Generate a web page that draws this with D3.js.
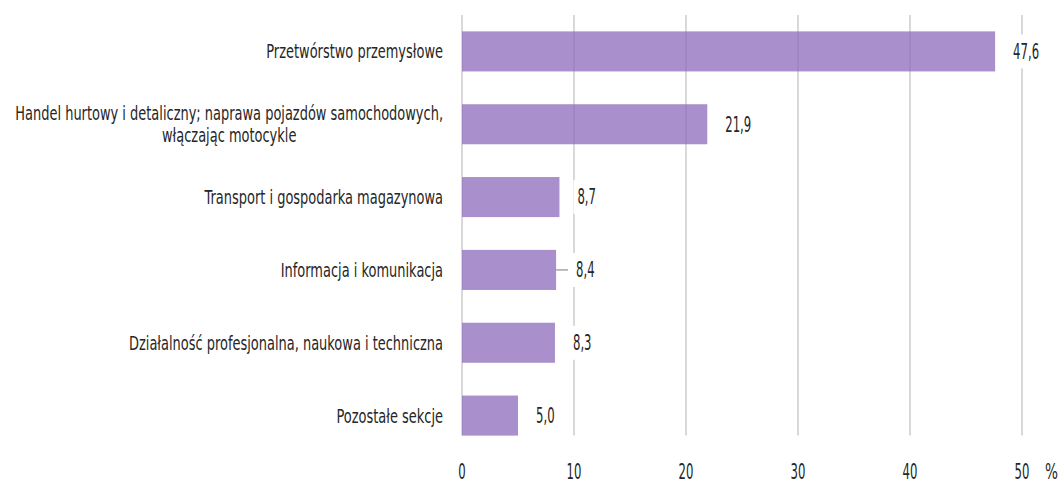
<!DOCTYPE html>
<html lang="pl">
<head>
<meta charset="utf-8">
<title>Sekcje</title>
<script src="https://d3js.org/d3.v7.min.js"></script>
<style>
  body { margin: 0; background: #fff; }
  text { font-family: "DejaVu Sans", sans-serif; fill: #262626; }
</style>
</head>
<body>
<script>
// categories (each entry = lines of the label)
var categories = [
  ["Przetwórstwo przemysłowe"],
  ["Handel hurtowy i detaliczny; naprawa pojazdów samochodowych,", "włączając motocykle"],
  ["Transport i gospodarka magazynowa"],
  ["Informacja i komunikacja"],
  ["Działalność profesjonalna, naukowa i techniczna"],
  ["Pozostałe sekcje"]
];
var values = [47.6, 21.9, 8.7, 8.4, 8.3, 5.0];
var tickValues = [0, 10, 20, 30, 40, 50];
var unitLabel = "%";
// labels that Excel pulled out with a leader line
var leaderIdx = [3];

var W = 1062, H = 485;
var margin = {top: 15, left: 462, right: 40, bottom: 33};
var fsText = 20, fsNum = 21;

var svg = d3.select("body").append("svg")
  .attr("width", W).attr("height", H);

// squeeze DejaVu to mimic the condensed font of the original
function natWidth(str, fs) {
  var t = svg.append("text").attr("font-size", fs).text(str);
  var w = t.node().getComputedTextLength();
  t.remove();
  return w;
}
var sxText = 428 / natWidth(categories[1][0], fsText);
var sxNum = 26 / natWidth("47,6", fsNum);

var x = d3.scaleLinear().domain([0, 50]).range([margin.left, W - margin.right]);
var y = d3.scaleBand().domain(d3.range(categories.length))
  .range([margin.top, H - margin.bottom]).paddingInner(0.45).paddingOuter(0.225);

function addText(parent, px, py, str, anchor, sx, fs) {
  return parent.append("text")
    .attr("transform", "translate(" + px + "," + py + ") scale(" + sx + ",1)")
    .attr("font-size", fs).attr("text-anchor", anchor).attr("dy", "0.35em")
    .text(str);
}

// gridlines
svg.append("g").selectAll("line").data(tickValues).enter().append("line")
  .attr("x1", function(d) { return x(d); }).attr("x2", function(d) { return x(d); })
  .attr("y1", margin.top).attr("y2", y(categories.length - 1) + y.bandwidth())
  .attr("stroke", "#d9d9d9").attr("stroke-width", 2);

// bars
svg.append("g").selectAll("rect").data(values).enter().append("rect")
  .attr("x", x(0))
  .attr("y", function(d, i) { return y(i); })
  .attr("width", function(d) { return x(d) - x(0); })
  .attr("height", y.bandwidth())
  .attr("fill", "rgb(140,105,185)").attr("fill-opacity", 0.75);

// category labels
var lg = svg.append("g");
categories.forEach(function(lines, i) {
  var cy = y(i) + y.bandwidth() / 2;
  var lh = 22;
  var y0 = cy - (lines.length - 1) * lh / 2;
  var t = addText(lg, x(0) - 19, y0, lines[0], "end", sxText, fsText);
  if (lines.length > 1) {
    // multi-line: block right aligned, lines centred in block
    var bw = t.node().getComputedTextLength() * sxText;
    var cx = x(0) - 19 - bw / 2;
    for (var k = 1; k < lines.length; k++) {
      addText(lg, cx, y0 + k * lh, lines[k], "middle", sxText, fsText);
    }
  }
});

// value labels
var fmt = function(v) { return d3.format(".1f")(v).replace(".", ","); };
values.forEach(function(d, i) {
  var g = svg.append("g");
  var cy = y(i) + y.bandwidth() / 2;
  var isLeader = leaderIdx.indexOf(i) >= 0;
  var lx = x(d) + (isLeader ? 20 : 18);
  if (isLeader) {
    g.append("line").attr("x1", x(d)).attr("x2", lx - 8).attr("y1", cy).attr("y2", cy)
      .attr("stroke", "#a6a6a6").attr("stroke-width", 1.5);
  }
  var bg = g.append("rect").attr("fill", "#fff");
  var t = addText(g, lx, cy, fmt(d), "start", sxNum, fsNum);
  var w = t.node().getComputedTextLength() * sxNum;
  bg.attr("x", lx - 4).attr("y", cy - 17).attr("width", w + 8).attr("height", 34);
});

// x tick labels
var tg = svg.append("g");
tickValues.forEach(function(d) {
  addText(tg, x(d), H - 13, String(d), "middle", sxNum, fsNum);
});
addText(tg, x(50) + 23, H - 13, unitLabel, "start", sxText, fsNum);
</script>
</body>
</html>
